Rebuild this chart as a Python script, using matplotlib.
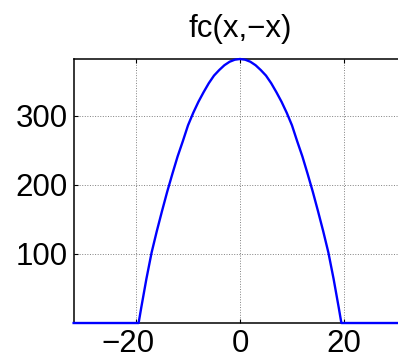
import numpy as np
import matplotlib.pyplot as plt
import matplotlib.transforms as mtransforms

plt.rcParams['font.family'] = ['Liberation Sans', 'DejaVu Sans']

# values
x_vals = [-32, -19.5, -19, -18, -17, -16, -15, -14, -13, -12, -11, -10,
          -9, -8, -7, -6, -5, -4, -3, -2, -1, 0,
          1, 2, 3, 4, 5, 6, 7, 8, 9, 10, 11, 12, 13, 14, 15, 16,
          17, 18, 19, 19.5, 32]
y_vals = [0, 0, 22, 64, 102, 133, 162, 190, 216, 241, 263, 286,
          304, 320, 334, 347, 358, 366, 373, 378, 381, 382,
          381, 378, 373, 366, 358, 347, 334, 320, 304, 286, 263, 241, 216, 190, 162, 133,
          102, 64, 22, 0, 0]
x_ticks = [-20, 0, 20]
y_ticks = [100, 200, 300]

fig = plt.figure(figsize=(3.98, 3.64), dpi=100)
ax = fig.add_axes([0.185, 0.1126, 0.836, 0.7253])

ax.plot(x_vals, y_vals, color='blue', lw=1.7, clip_on=False, zorder=5)

ax.set_xlim(-32, 32)
ax.set_ylim(0, 382)
ax.set_xticks(x_ticks)
ax.set_yticks(y_ticks)
ax.tick_params(direction='in', labelsize=22.5, top=True, length=3, width=0.8, pad=4)
ax.grid(True, color='#808080', linestyle=':', linewidth=0.7)
for s in ax.spines.values():
    s.set_linewidth(1.1)

# the -20 label sits a little left of its tick, as in the original
lab = ax.get_xticklabels()[0]
lab.set_transform(lab.get_transform() + mtransforms.ScaledTranslation(-8/100, 0, fig.dpi_scale_trans))

ax.set_title('fc(x,\u2212x)', fontsize=22.5, pad=16)

fig.savefig('out.png', dpi=100)
